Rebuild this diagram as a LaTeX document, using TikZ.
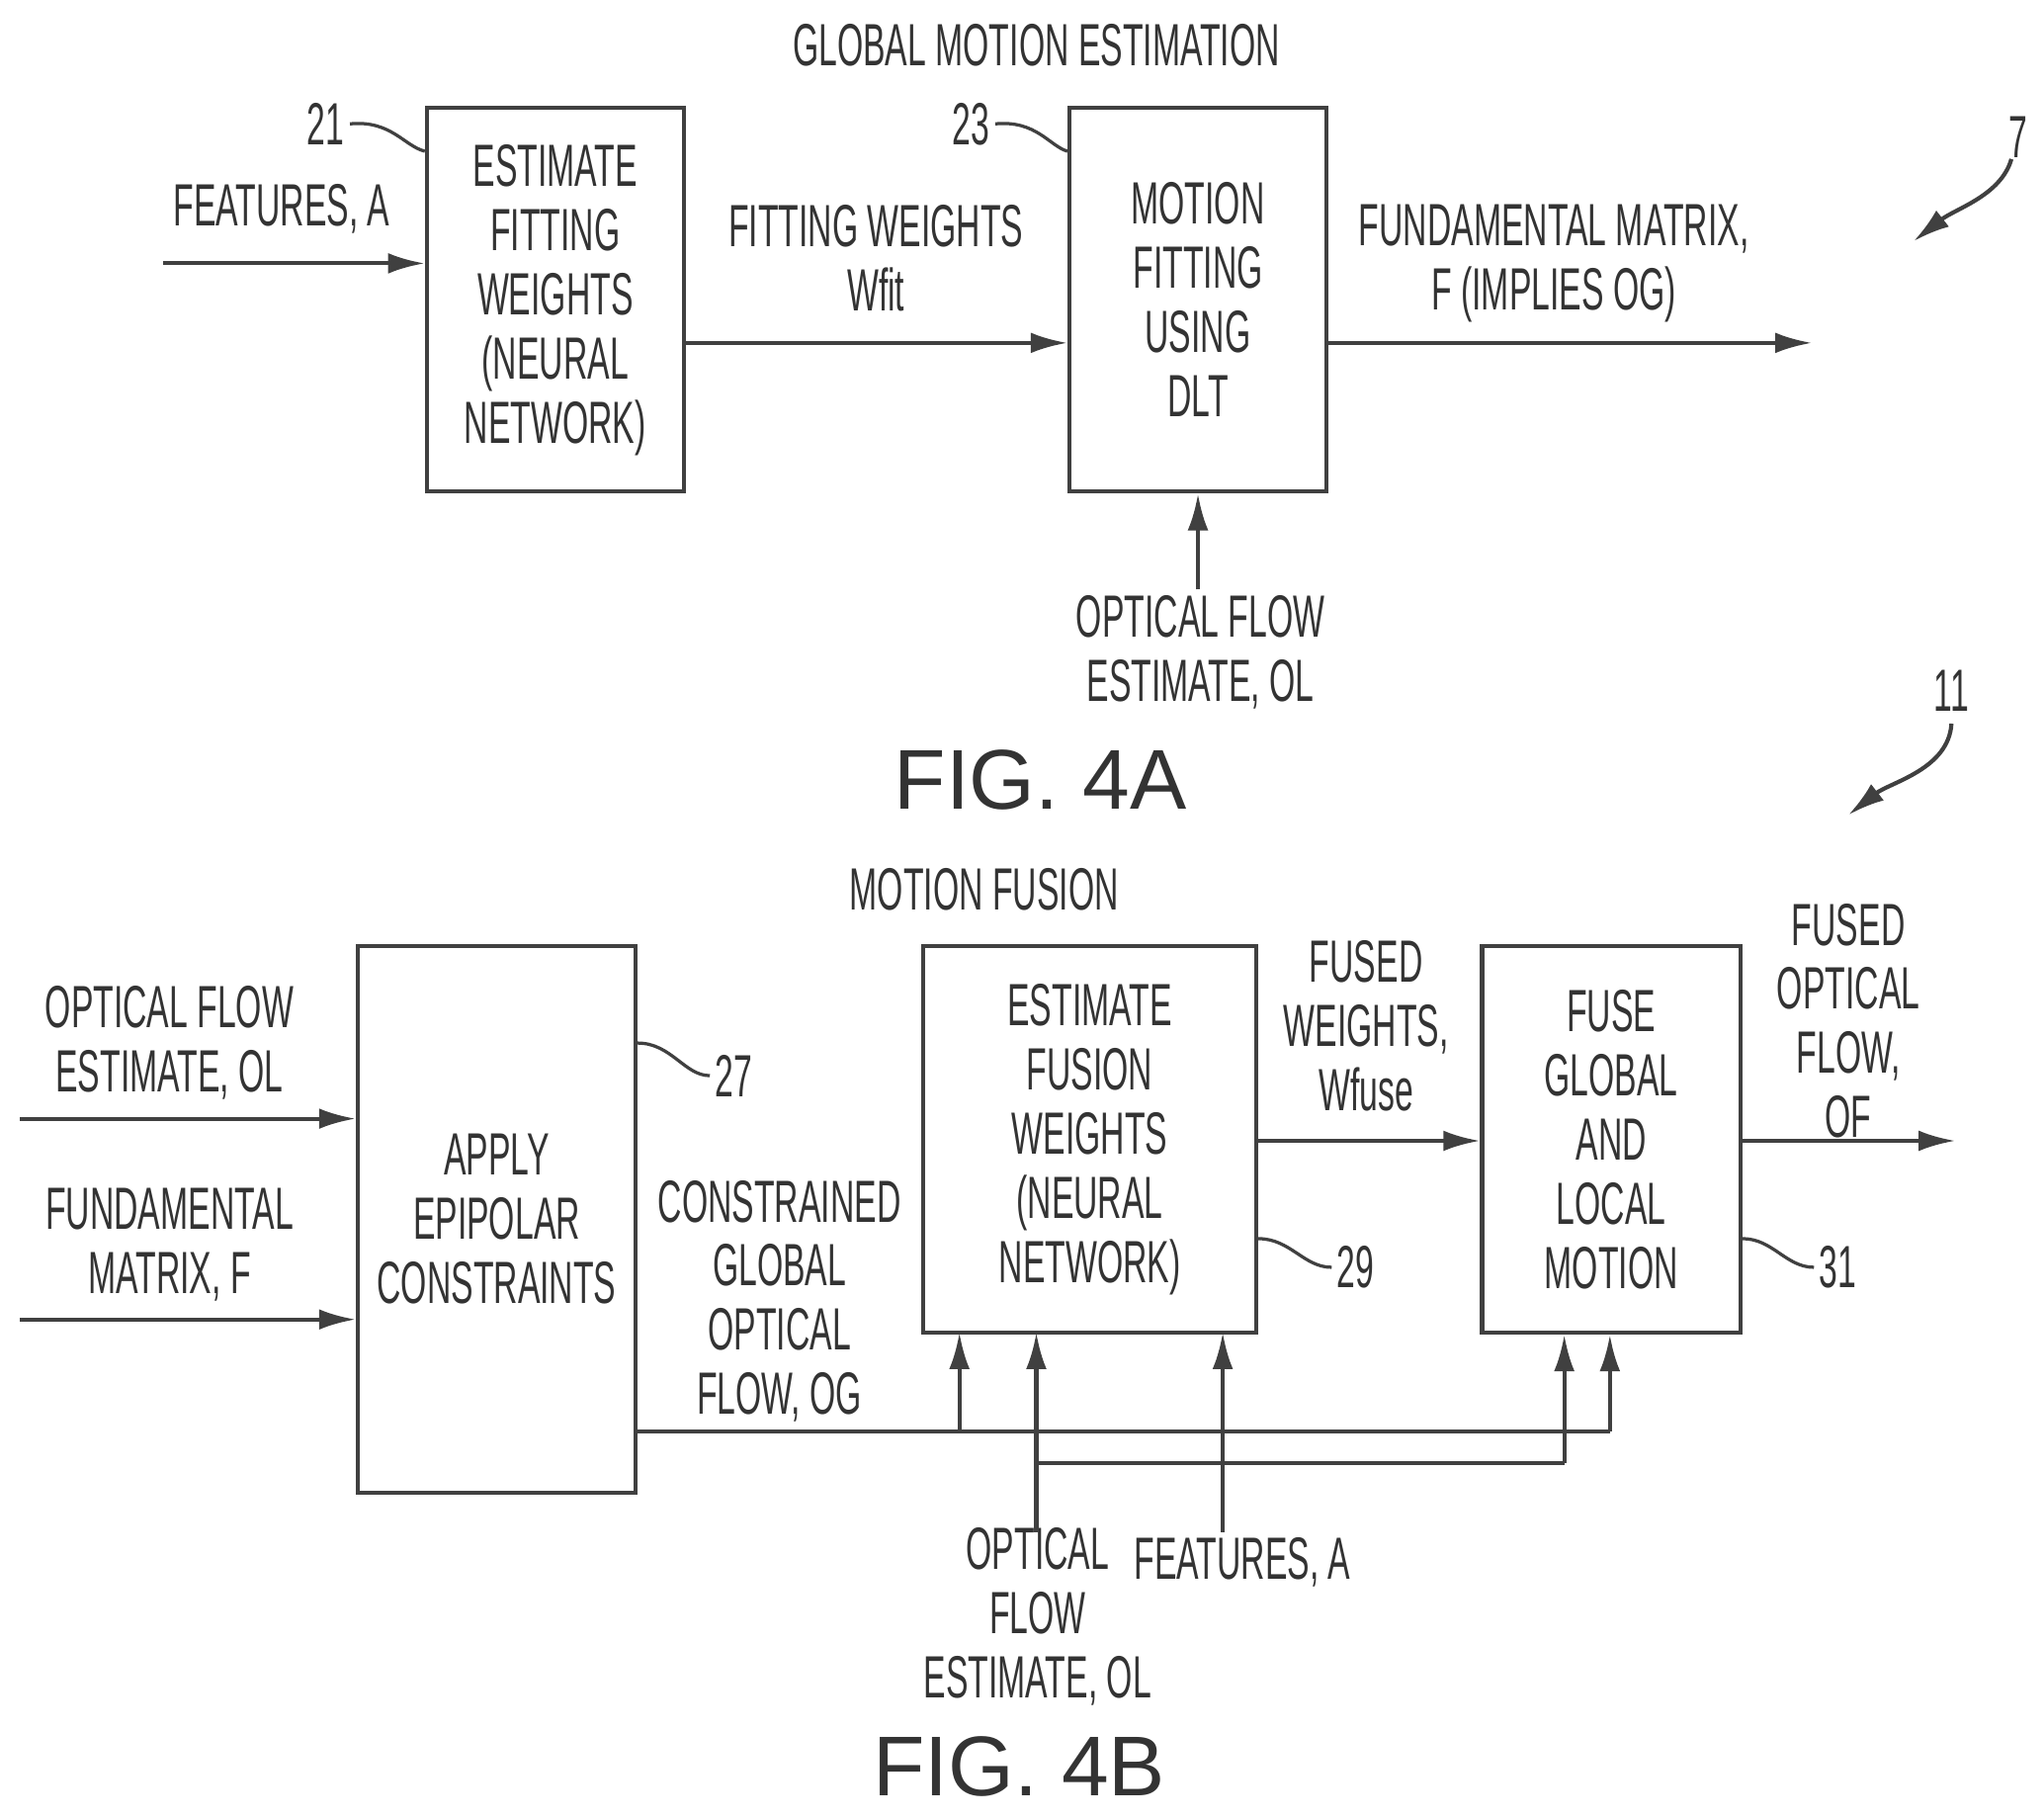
\documentclass[tikz,border=0pt]{standalone}
\usepackage{fontspec}
\setmainfont{Liberation Sans}[FakeStretch=0.56]
\newfontfamily\figfont{Liberation Sans}
\usetikzlibrary{arrows.meta, positioning}
\tikzset{
  block/.style={draw, rectangle, line width=0.9pt, align=center, font=\fontsize{13}{14}\selectfont, inner sep=2pt},
  lbl/.style={align=center, font=\fontsize{13}{14}\selectfont, inner sep=1pt},
  fig/.style={font=\figfont\fontsize{18.5}{20}\selectfont},
  flow/.style={-{Latex[length=8pt,width=4.5pt]}, line width=0.9pt},
  lead/.style={line width=0.7pt}
}
\begin{document}
\begin{tikzpicture}[x=0.01cm, y=-0.01cm, draw=black!75, text=black!80]
  \useasboundingbox (0,0) rectangle (1568,1394);
  % FIG. 4A
  \node [lbl] (gme) at (795,35) {GLOBAL MOTION ESTIMATION};
  \node [block, minimum width=1.97cm, minimum height=2.94cm] (fitw) at (426,230) {ESTIMATE\\FITTING\\WEIGHTS\\(NEURAL\\NETWORK)};
  \node [block, minimum width=1.97cm, minimum height=2.94cm] (dlt) at (919,230) {MOTION\\FITTING\\USING\\DLT};
  \coordinate (featin) at (125,202);
  \coordinate (fout) at (1390,263);
  \node [lbl] (feat) at (216,160) {FEATURES, A};
  \node [lbl] (wfit) at (672,198) {FITTING WEIGHTS\\Wfit};
  \node [lbl] (fmat) at (1192,202) {FUNDAMENTAL MATRIX,\\F (IMPLIES OG)};
  \node [lbl] (ol1) at (921,500) {OPTICAL FLOW\\ESTIMATE, OL};
  \draw [flow] (featin) -- (featin -| fitw.west);
  \draw [flow] (fitw.east |- 0,263) -- (dlt.west |- 0,263);
  \draw [flow] (dlt.east |- fout) -- (fout);
  \draw [flow] (ol1.north -| dlt.south) -- (dlt.south);
  \node [lbl] (n21) at (250,95) {21};
  \draw [lead] (n21.east) .. controls (300,92) and (310,112) .. (fitw.north west |- 0,116);
  \node [lbl] (n23) at (745,95) {23};
  \draw [lead] (n23.east) .. controls (795,92) and (805,112) .. (dlt.north west |- 0,116);
  \node [lbl] (n7) at (1548,105) {7};
  \draw [flow] (1543,122) .. controls (1535,150) and (1500,160) .. (1468,185);
  \node [fig] (f4a) at (798,598) {FIG. 4A};
  % FIG. 4B
  \node [lbl] (mf) at (755,682) {MOTION FUSION};
  \node [block, minimum width=2.13cm, minimum height=4.19cm] (epi) at (381,935) {APPLY\\EPIPOLAR\\CONSTRAINTS};
  \node [block, minimum width=2.55cm, minimum height=2.96cm] (fw) at (836,874) {ESTIMATE\\FUSION\\WEIGHTS\\(NEURAL\\NETWORK)};
  \node [block, minimum width=1.98cm, minimum height=2.96cm] (fuse) at (1236,874) {FUSE\\GLOBAL\\AND\\LOCAL\\MOTION};
  \node [lbl] (ol2) at (130,800) {OPTICAL FLOW\\ESTIMATE, OL};
  \node [lbl] (fm2) at (130,955) {FUNDAMENTAL\\MATRIX, F};
  \node [lbl] (og) at (598,998) {CONSTRAINED\\GLOBAL\\OPTICAL\\FLOW, OG};
  \node [lbl] (wfuse) at (1048,787) {FUSED\\WEIGHTS,\\Wfuse};
  \node [lbl] (of) at (1418,783) {FUSED\\OPTICAL\\FLOW,\\OF};
  \node [lbl] (ol3) at (796,1240) {OPTICAL\\FLOW\\ESTIMATE, OL};
  \node [lbl] (feat2) at (953,1198) {FEATURES, A};
  \coordinate (olin) at (15,858);
  \coordinate (fmin) at (15,1012);
  \coordinate (ofout) at (1500,875);
  \draw [flow] (olin) -- (olin -| epi.west);
  \draw [flow] (fmin) -- (fmin -| epi.west);
  \draw [flow] (fw.east |- ofout) -- (fuse.west |- ofout);
  \draw [flow] (fuse.east |- ofout) -- (ofout);
  % bus lines
  \coordinate (ogbus) at (1235,1098);
  \coordinate (olbus) at (1200,1122);
  \draw [line width=0.9pt] (epi.east |- ogbus) -- (ogbus);
  \draw [flow] (736,1098) -- (736,1022);
  \draw [flow] (ogbus) -- (ogbus |- fuse.south);
  \draw [flow] (795,1175) -- (795,1022);
  \draw [line width=0.9pt] (795,1122) -- (olbus);
  \draw [flow] (olbus) -- (olbus |- fuse.south);
  \draw [flow] (938,1175) -- (938,1022);
  \node [lbl] (n27) at (563,825) {27};
  \draw [lead] (epi.east |- 0,800) .. controls (515,800) and (525,825) .. (n27.west);
  \node [lbl] (n29) at (1040,972) {29};
  \draw [lead] (fw.east |- 0,950) .. controls (990,950) and (1000,972) .. (n29.west);
  \node [lbl] (n31) at (1410,972) {31};
  \draw [lead] (fuse.east |- 0,950) .. controls (1360,950) and (1370,972) .. (n31.west);
  \node [lbl] (n11) at (1497,530) {11};
  \draw [flow] (1497,555) .. controls (1495,590) and (1450,600) .. (1418,625);
  \node [fig] (f4b) at (782,1355) {FIG. 4B};
\end{tikzpicture}
\end{document}
